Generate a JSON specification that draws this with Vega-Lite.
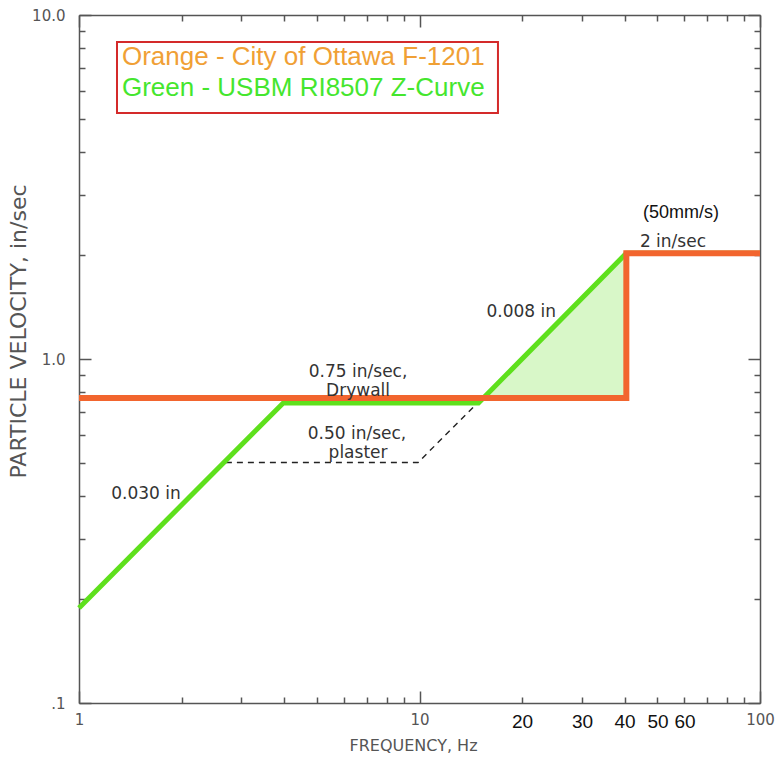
{
  "$schema": "https://vega.github.io/schema/vega-lite/v6.json",
  "width": 681,
  "height": 688,
  "autosize": {"type": "none"},
  "padding": {"left": 79, "top": 15, "right": 19, "bottom": 59},
  "background": "white",
  "config": {"view": {"stroke": null}},
  "datasets": {
    "fill": [{"f": 15.2, "top": 0.77, "bot": 0.77}, {"f": 40.5, "top": 2.03, "bot": 0.77}],
    "dashed": [{"f": 2.7, "v": 0.5, "i": 0}, {"f": 9.9, "v": 0.5, "i": 1}, {"f": 14.8, "v": 0.745, "i": 2}],
    "green": [{"f": 1, "v": 0.189, "i": 0}, {"f": 3.98, "v": 0.745, "i": 1}, {"f": 14.9, "v": 0.745, "i": 2}, {"f": 40.5, "v": 2.03, "i": 3}, {"f": 100, "v": 2.03, "i": 4}],
    "orange": [{"f": 1, "v": 0.77, "i": 0}, {"f": 40.5, "v": 0.77, "i": 1}, {"f": 40.5, "v": 2.03, "i": 2}, {"f": 100, "v": 2.03, "i": 3}],
    "notes": [
      {"f": 1.573, "v": 0.405, "label": "0.030 in"},
      {"f": 6.6, "v": 0.918, "label": "0.75 in/sec,"},
      {"f": 6.6, "v": 0.805, "label": "Drywall"},
      {"f": 6.55, "v": 0.605, "label": "0.50 in/sec,"},
      {"f": 6.6, "v": 0.532, "label": "plaster"},
      {"f": 19.9, "v": 1.37, "label": "0.008 in"},
      {"f": 55.5, "v": 2.19, "label": "2 in/sec"}
    ],
    "notes2": [{"f": 58.6, "v": 2.66, "label": "(50mm/s)"}],
    "box": [{"x1": 1.293, "x2": 17.0, "y1": 5.19, "y2": 8.35}],
    "legend": [
      {"f": 1.337, "v": 7.55, "label": "Orange - City of Ottawa F-1201", "series": "orange"},
      {"f": 1.337, "v": 6.14, "label": "Green - USBM RI8507 Z-Curve", "series": "green"}
    ]
  },
  "resolve": {"axis": {"x": "independent", "y": "independent"}},
  "layer": [
    {
      "data": {"name": "fill"},
      "mark": {"type": "area", "color": "#d8f7c8", "opacity": 1},
      "encoding": {
        "x": {"field": "f", "type": "quantitative", "scale": {"type": "log", "domain": [1, 100], "nice": false}, "axis": null},
        "y": {"field": "top", "type": "quantitative", "scale": {"type": "log", "domain": [0.1, 10], "nice": false}, "axis": null},
        "y2": {"field": "bot"}
      }
    },
    {
      "data": {"name": "dashed"},
      "mark": {"type": "line", "color": "#222222", "strokeWidth": 1.4, "strokeDash": [6, 5]},
      "encoding": {
        "x": {"field": "f", "type": "quantitative", "scale": {"type": "log", "domain": [1, 100], "nice": false}, "axis": null},
        "y": {"field": "v", "type": "quantitative", "scale": {"type": "log", "domain": [0.1, 10], "nice": false}, "axis": null},
        "order": {"field": "i"}
      }
    },
    {
      "data": {"name": "green"},
      "mark": {"type": "line", "color": "#5ee01c", "strokeWidth": 5, "strokeJoin": "miter"},
      "encoding": {
        "x": {"field": "f", "type": "quantitative", "scale": {"type": "log", "domain": [1, 100], "nice": false}, "axis": null},
        "y": {"field": "v", "type": "quantitative", "scale": {"type": "log", "domain": [0.1, 10], "nice": false}, "axis": null},
        "order": {"field": "i"}
      }
    },
    {
      "data": {"name": "orange"},
      "mark": {"type": "line", "color": "#f2652e", "strokeWidth": 6, "strokeJoin": "miter", "strokeCap": "butt"},
      "encoding": {
        "x": {"field": "f", "type": "quantitative", "scale": {"type": "log", "domain": [1, 100], "nice": false},
          "axis": {
            "orient": "bottom",
            "values": [1, 2, 3, 4, 5, 6, 7, 8, 9, 10, 20, 30, 40, 50, 60, 70, 80, 90, 100],
            "labelExpr": "indexof([1,10,20,30,40,50,60,100], datum.value) >= 0 ? datum.label : ''",
            "labelFont": {"condition": {"test": "datum.value == 1 || datum.value == 10 || datum.value == 100", "value": "DejaVu Sans"}, "value": "Liberation Sans"},
            "labelFontSize": {"condition": {"test": "datum.value == 1 || datum.value == 10 || datum.value == 100", "value": 15}, "value": 19},
            "labelColor": {"condition": {"test": "datum.value == 1 || datum.value == 10 || datum.value == 100", "value": "#555555"}, "value": "#111111"},
            "labelPadding": {"condition": {"test": "datum.value == 1 || datum.value == 10 || datum.value == 100", "value": 21}, "value": 15},
            "labelBaseline": "top",
            "labelFlush": false,
            "labelOverlap": false,
            "tickSize": {"condition": {"test": "datum.value == 1 || datum.value == 10 || datum.value == 100", "value": -12}, "value": -6},
            "tickColor": "#555555",
            "tickWidth": 1.5,
            "domainColor": "#555555",
            "domainWidth": 1.5,
            "grid": false,
            "title": "FREQUENCY, Hz",
            "titleFont": "DejaVu Sans",
            "titleFontSize": 16,
            "titleFontWeight": "normal",
            "titleColor": "#555555",
            "titleBaseline": "middle",
            "titleY": 42,
            "titleX": 334
          }
        },
        "y": {"field": "v", "type": "quantitative", "scale": {"type": "log", "domain": [0.1, 10], "nice": false},
          "axis": {
            "orient": "left",
            "values": [0.1, 0.2, 0.3, 0.4, 0.5, 0.6, 0.7, 0.8, 0.9, 1, 2, 3, 4, 5, 6, 7, 8, 9, 10],
            "labelExpr": "datum.value == 10 ? '10.0' : datum.value == 1 ? '1.0' : datum.value == 0.1 ? '.1' : ''",
            "labelFont": "DejaVu Sans",
            "labelFontSize": 15,
            "labelColor": "#555555",
            "labelPadding": {"condition": {"test": "datum.value == 1 || datum.value == 10 || datum.value == 0.1", "value": 26}, "value": 20},
            "labelFlush": false,
            "labelOverlap": false,
            "tickSize": {"condition": {"test": "datum.value == 1 || datum.value == 10 || datum.value == 0.1", "value": -12}, "value": -6},
            "tickColor": "#555555",
            "tickWidth": 1.5,
            "domainColor": "#555555",
            "domainWidth": 1.5,
            "grid": false,
            "title": "PARTICLE VELOCITY, in/sec",
            "titleFont": "DejaVu Sans",
            "titleFontSize": 22,
            "titleFontWeight": "normal",
            "titleColor": "#555555",
            "titleAngle": -90,
            "titleBaseline": "middle",
            "titleAlign": "center",
            "titleX": -61,
            "titleY": 316
          }
        },
        "order": {"field": "i"}
      }
    },
    {
      "data": {"name": "notes"},
      "mark": {"type": "text", "font": "DejaVu Sans", "fontSize": 17, "color": "#333333", "align": "center", "baseline": "middle"},
      "encoding": {
        "x": {"field": "f", "type": "quantitative", "scale": {"type": "log", "domain": [1, 100], "nice": false}, "axis": null},
        "y": {"field": "v", "type": "quantitative", "scale": {"type": "log", "domain": [0.1, 10], "nice": false}, "axis": null},
        "text": {"field": "label"}
      }
    },
    {
      "data": {"name": "notes2"},
      "mark": {"type": "text", "font": "Liberation Sans", "fontSize": 18, "color": "#111111", "align": "center", "baseline": "middle"},
      "encoding": {
        "x": {"field": "f", "type": "quantitative", "scale": {"type": "log", "domain": [1, 100], "nice": false}, "axis": null},
        "y": {"field": "v", "type": "quantitative", "scale": {"type": "log", "domain": [0.1, 10], "nice": false}, "axis": null},
        "text": {"field": "label"}
      }
    },
    {
      "data": {"name": "box"},
      "mark": {"type": "rect", "fill": "white", "fillOpacity": 0, "stroke": "#d42a2a", "strokeWidth": 2},
      "encoding": {
        "x": {"field": "x1", "type": "quantitative", "scale": {"type": "log", "domain": [1, 100], "nice": false},
          "axis": {
            "orient": "top",
            "values": [1, 2, 3, 4, 5, 6, 7, 8, 9, 10, 20, 30, 40, 50, 60, 70, 80, 90, 100],
            "labels": false,
            "tickSize": {"condition": {"test": "datum.value == 1 || datum.value == 10 || datum.value == 100", "value": -12}, "value": -6},
            "tickColor": "#555555",
            "tickWidth": 1.5,
            "domainColor": "#555555",
            "domainWidth": 1.5,
            "grid": false,
            "title": null
          }
        },
        "x2": {"field": "x2"},
        "y": {"field": "y1", "type": "quantitative", "scale": {"type": "log", "domain": [0.1, 10], "nice": false},
          "axis": {
            "orient": "right",
            "values": [0.1, 0.2, 0.3, 0.4, 0.5, 0.6, 0.7, 0.8, 0.9, 1, 2, 3, 4, 5, 6, 7, 8, 9, 10],
            "labels": false,
            "tickSize": {"condition": {"test": "datum.value == 1 || datum.value == 10 || datum.value == 0.1", "value": -12}, "value": -6},
            "tickColor": "#555555",
            "tickWidth": 1.5,
            "domainColor": "#555555",
            "domainWidth": 1.5,
            "grid": false,
            "title": null
          }
        },
        "y2": {"field": "y2"}
      }
    },
    {
      "data": {"name": "legend"},
      "mark": {"type": "text", "font": "Liberation Sans", "fontSize": 26, "align": "left", "baseline": "middle"},
      "encoding": {
        "x": {"field": "f", "type": "quantitative", "scale": {"type": "log", "domain": [1, 100], "nice": false}, "axis": null},
        "y": {"field": "v", "type": "quantitative", "scale": {"type": "log", "domain": [0.1, 10], "nice": false}, "axis": null},
        "text": {"field": "label"},
        "color": {"field": "series", "type": "nominal", "scale": {"domain": ["orange", "green"], "range": ["#f0a035", "#45e62e"]}, "legend": null}
      }
    }
  ]
}
